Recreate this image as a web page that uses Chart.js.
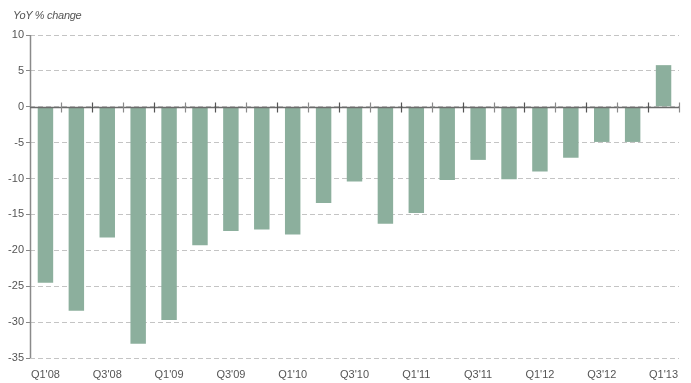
<!DOCTYPE html>
<html>
<head>
<meta charset="utf-8">
<script src="https://cdn.jsdelivr.net/npm/chart.js@4/dist/chart.umd.min.js"></script>
<style>
  html, body { margin: 0; padding: 0; background: #fff; }
  #wrap { position: relative; width: 691px; height: 383px; }
  #title {
    position: absolute; left: 13px; top: 9px;
    font: italic 11px "Liberation Sans Narrow", "Liberation Sans", Arial, sans-serif;
    color: #555; letter-spacing: -0.3px;
  }
</style>
</head>
<body>
<div id="wrap">
  <canvas id="chart" width="691" height="383"></canvas>
  <div id="title">YoY % change</div>
</div>
<script>
const quarters = [
  "Q1'08", "Q2'08", "Q3'08", "Q4'08",
  "Q1'09", "Q2'09", "Q3'09", "Q4'09",
  "Q1'10", "Q2'10", "Q3'10", "Q4'10",
  "Q1'11", "Q2'11", "Q3'11", "Q4'11",
  "Q1'12", "Q2'12", "Q3'12", "Q4'12",
  "Q1'13"
];
const yoyChange = [
  -24.5, -28.4, -18.2, -33.0,
  -29.7, -19.3, -17.3, -17.1,
  -17.8, -13.4, -10.4, -16.3,
  -14.8, -10.2, -7.4, -10.1,
  -9.0, -7.1, -4.9, -4.9,
  5.8
];
const yTicks = [10, 5, 0, -5, -10, -15, -20, -25, -30, -35];

const textColor = "#555";
const barColor = "#8caf9d";
const fontFamily = '"Liberation Sans Narrow", "Liberation Sans", Arial, sans-serif';

// solid left axis, plus zero line with small tick marks between the quarters
const axisLines = {
  id: "axisLines",
  afterDatasetsDraw(chart) {
    const { ctx, scales: { x, y }, chartArea } = chart;
    ctx.save();
    const xl = Math.round(chartArea.left) + 0.5;
    ctx.strokeStyle = "#8a8a8a";
    ctx.lineWidth = 1.5;
    ctx.beginPath();
    ctx.moveTo(xl, chartArea.top);
    ctx.lineTo(xl, chartArea.bottom);
    ctx.stroke();

    const y0 = Math.round(y.getPixelForValue(0)) + 0.5;
    ctx.strokeStyle = "#6b6b6b";
    ctx.beginPath();
    ctx.moveTo(chartArea.left, y0);
    ctx.lineTo(chartArea.right, y0);
    ctx.stroke();
    const step = x.getPixelForValue(1) - x.getPixelForValue(0);
    quarters.forEach((_, i) => {
      const px = Math.round(x.getPixelForValue(i) + step / 2) + 0.5;
      ctx.strokeStyle = i % 2 ? "#555" : "#8a8a8a";
      ctx.lineWidth = 1.2;
      ctx.beginPath();
      ctx.moveTo(px, y0 - 5);
      ctx.lineTo(px, y0 + 5);
      ctx.stroke();
    });
    ctx.restore();
  }
};

new Chart(document.getElementById("chart"), {
  type: "bar",
  data: {
    labels: quarters,
    datasets: [{
      label: "YoY % change",
      data: yoyChange,
      backgroundColor: barColor,
      borderWidth: 0,
      categoryPercentage: 1,
      barPercentage: 0.5
    }]
  },
  options: {
    responsive: false,
    animation: false,
    layout: { padding: { top: 35, right: 12, left: 0, bottom: 0 } },
    plugins: {
      legend: { display: false },
      tooltip: { enabled: false }
    },
    scales: {
      x: {
        afterFit(axis) { axis.height = 25; },
        grid: { display: false, drawTicks: false },
        border: { display: false },
        ticks: {
          autoSkip: false,
          maxRotation: 0,
          padding: 10,
          color: textColor,
          font: { family: fontFamily, size: 11 },
          callback: (value, index) => index % 2 === 0 ? quarters[index] : ""
        }
      },
      y: {
        min: -35,
        max: 10,
        afterBuildTicks(axis) {
          axis.ticks = yTicks.map((v) => ({ value: v }));
        },
        afterFit(axis) { axis.width = 30; },
        grid: {
          color: "#c4c4c4",
          lineWidth: 1,
          drawTicks: true,
          tickLength: 4,
          tickColor: "#888"
        },
        border: { display: false, dash: [5, 3] },
        ticks: {
          padding: 2,
          color: textColor,
          font: { family: fontFamily, size: 11 }
        }
      }
    }
  },
  plugins: [axisLines]
});
</script>
</body>
</html>
